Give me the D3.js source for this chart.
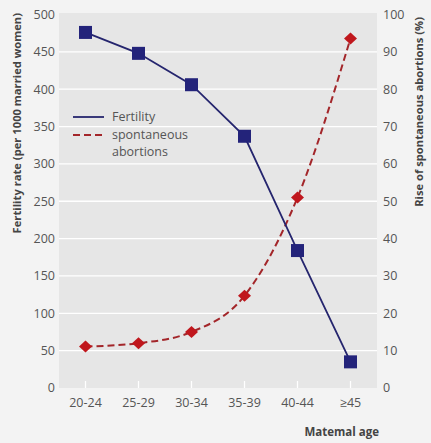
<!DOCTYPE html>
<html><head><meta charset="utf-8">
<script src="https://cdn.jsdelivr.net/npm/d3@7"></script>
<style>
html,body{margin:0;padding:0;background:#f3f3f3;}
svg{display:block;font-family:"Open Sans","Noto Sans",sans-serif;}
</style></head>
<body>
<svg id="c" width="431" height="443"></svg>
<script>
const categories = ["20-24","25-29","30-34","35-39","40-44","≥45"];
const fertility = [476, 448, 406, 337, 184, 35];
const abortions = [11.1, 12.0, 15.0, 24.7, 51.0, 93.6];
const leftTicks = [0,50,100,150,200,250,300,350,400,450,500];
const rightTicks = [0,10,20,30,40,50,60,70,80,90,100];

const svg = d3.select("#c");
const L = 59, R = 377, T = 13, B = 388;
const x = d3.scalePoint().domain(categories).range([L, R]).padding(0.5);
const yL = d3.scaleLinear().domain([0, 500]).range([B, 14.5]);
const yR = d3.scaleLinear().domain([0, 100]).range([B, 14.5]);

svg.append("rect").attr("x", L).attr("y", T).attr("width", R - L).attr("height", B - T).attr("fill", "#e6e6e6");

// gridlines
svg.append("g").selectAll("line").data(leftTicks.filter(d => d > 0 && d < 500)).join("line")
  .attr("x1", L).attr("x2", R).attr("y1", d => yL(d)).attr("y2", d => yL(d))
  .attr("stroke", "#ffffff").attr("stroke-width", 1.3);

// x ticks (white, inside)
svg.append("g").selectAll("line").data(categories).join("line")
  .attr("x1", d => x(d)).attr("x2", d => x(d)).attr("y1", B - 7).attr("y2", B)
  .attr("stroke", "#ffffff").attr("stroke-width", 1.3);

// left axis labels
svg.append("g").selectAll("text").data(leftTicks).join("text")
  .attr("x", 55).attr("y", d => yL(d)).attr("dy", "0.35em").attr("text-anchor", "end")
  .attr("font-size", 12.5).attr("fill", "#555").text(d => d);

// right axis labels
svg.append("g").selectAll("text").data(rightTicks).join("text")
  .attr("x", 383).attr("y", d => yR(d)).attr("dy", "0.35em").attr("text-anchor", "start")
  .attr("font-size", 12.5).attr("fill", "#555").text(d => d);

// x labels
svg.append("g").selectAll("text").data(categories).join("text")
  .attr("x", d => x(d)).attr("y", 403).attr("dy", "0.35em").attr("text-anchor", "middle")
  .attr("font-size", 12.5).attr("fill", "#555").text(d => d);

// axis titles
svg.append("text").attr("transform", "translate(21,13) rotate(-90)").attr("text-anchor", "end")
  .attr("font-size", 11.2).attr("font-weight", "bold").attr("fill", "#444")
  .text("Fertility rate (per 1000 married women)");
svg.append("text").attr("transform", "translate(423,17) rotate(-90)").attr("text-anchor", "end")
  .attr("font-size", 11.2).attr("font-weight", "bold").attr("fill", "#444")
  .text("Rise of spontaneous abortions (%)");
svg.append("text").attr("x", 379).attr("y", 436).attr("text-anchor", "end")
  .attr("font-size", 11.5).attr("font-weight", "bold").attr("fill", "#444")
  .text("Matemal age");

// abortion line
const abLine = d3.line().x((d, i) => x(categories[i])).y(d => yR(d)).curve(d3.curveMonotoneX);
svg.append("path").attr("d", abLine(abortions)).attr("fill", "none")
  .attr("stroke", "#a3262a").attr("stroke-width", 2).attr("stroke-dasharray", "7,4");

// fertility line
const fLine = d3.line().x((d, i) => x(categories[i])).y(d => yL(d));
svg.append("path").attr("d", fLine(fertility)).attr("fill", "none")
  .attr("stroke", "#25256e").attr("stroke-width", 1.8);

// diamonds
svg.append("g").selectAll("path").data(abortions).join("path")
  .attr("transform", (d, i) => `translate(${x(categories[i])},${yR(d)})`)
  .attr("d", "M0,-6L6.5,0L0,6L-6.5,0Z").attr("fill", "#c0171d");

// squares
svg.append("g").selectAll("rect").data(fertility).join("rect")
  .attr("x", (d, i) => x(categories[i]) - 6.5).attr("y", d => yL(d) - 6.5)
  .attr("width", 13).attr("height", 13).attr("fill", "#23237a");

// legend
const lg = svg.append("g");
lg.append("line").attr("x1", 73).attr("x2", 104).attr("y1", 117).attr("y2", 117)
  .attr("stroke", "#25256e").attr("stroke-width", 1.8);
lg.append("line").attr("x1", 73).attr("x2", 104).attr("y1", 135).attr("y2", 135)
  .attr("stroke", "#a3262a").attr("stroke-width", 2).attr("stroke-dasharray", "7,4");
lg.append("text").attr("x", 112).attr("y", 117).attr("dy", "0.35em").attr("font-size", 12.5).attr("fill", "#555").text("Fertility");
lg.append("text").attr("x", 112).attr("y", 135).attr("dy", "0.35em").attr("font-size", 12.5).attr("fill", "#555").text("spontaneous");
lg.append("text").attr("x", 112).attr("y", 152).attr("dy", "0.35em").attr("font-size", 12.5).attr("fill", "#555").text("abortions");
</script>
</body></html>
